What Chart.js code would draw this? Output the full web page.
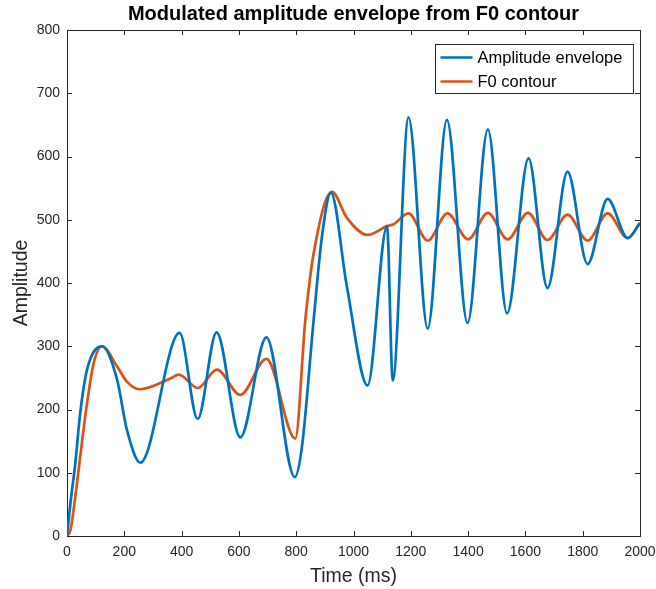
<!DOCTYPE html>
<html>
<head>
<meta charset="utf-8">
<script src="https://cdn.jsdelivr.net/npm/chart.js@4.4.1/dist/chart.umd.min.js"></script>
<style>
  body { margin: 0; background: #fff; }
  #wrap { width: 656px; height: 589px; }
</style>
</head>
<body>
<div id="wrap"><canvas id="plot"></canvas></div>
<script>
// time (ms) / value pairs
const envTime = [0, 12, 29, 46, 70, 122, 175, 209, 256, 393, 456, 522, 605, 696, 795, 820, 861, 890, 921, 977, 1049, 1117, 1137, 1192, 1259, 1326, 1398, 1469, 1536, 1611, 1677, 1747, 1817, 1887, 1957, 2000];
const envValue = [0, 52, 115, 194, 263, 300, 247, 168, 116, 321, 185, 322, 156, 314, 93, 141, 342, 474, 543, 394, 238, 490, 246, 662, 328, 658, 337, 643, 352, 597, 392, 576, 430, 533, 471, 495];

const f0Time = [0, 12, 29, 46, 70, 93, 122, 175, 209, 253, 361, 390, 457, 523, 605, 696, 797, 832, 861, 925, 977, 1049, 1117, 1140, 1192, 1259, 1328, 1400, 1469, 1538, 1609, 1677, 1747, 1817, 1887, 1957, 2000];
const f0Value = [0, 9, 62, 125, 210, 273, 300, 268, 244, 232, 249, 255, 234, 263, 223, 280, 154, 342, 447, 544, 503, 476, 490, 493, 510, 467, 510, 469, 511, 469, 511, 468, 508, 467, 510, 471, 495];

const xTicks = [0, 200, 400, 600, 800, 1000, 1200, 1400, 1600, 1800, 2000];
const yTicks = [0, 100, 200, 300, 400, 500, 600, 700, 800];

const FONT = "'Liberation Sans', Arial, Helvetica, sans-serif";
const INK = '#262626';

function pairs(xs, ys) {
    return xs.map((x, i) => ({ x: x, y: ys[i] }));
}

// matlab style box with inward ticks + legend in the upper right
const boxPlugin = {
    id: 'box',
    beforeDatasetsDraw(chart) {
        const { ctx, chartArea: a, scales } = chart;
        ctx.save();
        ctx.strokeStyle = INK;
        ctx.lineWidth = 1;
        ctx.beginPath();
        xTicks.forEach(v => {
            const px = Math.round(scales.x.getPixelForValue(v)) + 0.5;
            ctx.moveTo(px, a.bottom); ctx.lineTo(px, a.bottom - 5);
            ctx.moveTo(px, a.top); ctx.lineTo(px, a.top + 5);
        });
        yTicks.forEach(v => {
            const py = Math.round(scales.y.getPixelForValue(v)) + 0.5;
            ctx.moveTo(a.left, py); ctx.lineTo(a.left + 5, py);
            ctx.moveTo(a.right, py); ctx.lineTo(a.right - 5, py);
        });
        ctx.stroke();
        ctx.strokeRect(Math.round(a.left) + 0.5, Math.round(a.top) + 0.5,
            Math.round(a.right - a.left), Math.round(a.bottom - a.top));
        ctx.restore();
    },
    afterDatasetsDraw(chart) {
        const { ctx, chartArea: a } = chart;
        const sets = chart.data.datasets;
        ctx.save();
        ctx.font = '16.5px ' + FONT;
        const textW = Math.max(...sets.map(d => ctx.measureText(d.label).width));
        const w = 42 + textW + 11;
        const h = 49;
        const x0 = Math.round(a.right - 7 - w) + 0.5;
        const y0 = Math.round(a.top + 14) + 0.5;
        ctx.fillStyle = '#fff';
        ctx.fillRect(x0, y0, w, h);
        ctx.strokeStyle = INK;
        ctx.lineWidth = 1;
        ctx.strokeRect(x0, y0, w, h);
        sets.forEach((d, i) => {
            const cy = y0 + 13 + i * 24;
            ctx.strokeStyle = d.borderColor;
            ctx.lineWidth = 2.7;
            ctx.beginPath();
            ctx.moveTo(x0 + 5, cy);
            ctx.lineTo(x0 + 37, cy);
            ctx.stroke();
            ctx.fillStyle = '#000';
            ctx.textBaseline = 'middle';
            ctx.fillText(d.label, x0 + 42, cy + 1);
        });
        ctx.restore();
    }
};

new Chart(document.getElementById('plot'), {
    type: 'line',
    data: {
        datasets: [
            {
                label: 'Amplitude envelope',
                data: pairs(envTime, envValue),
                borderColor: '#0072BD',
                borderWidth: 2.7,
                pointRadius: 0,
                cubicInterpolationMode: 'monotone'
            },
            {
                label: 'F0 contour',
                data: pairs(f0Time, f0Value),
                borderColor: '#D95319',
                borderWidth: 2.7,
                pointRadius: 0,
                cubicInterpolationMode: 'monotone'
            }
        ]
    },
    options: {
        responsive: true,
        maintainAspectRatio: false,
        animation: false,
        layout: { padding: 0 },
        plugins: {
            legend: { display: false },
            tooltip: { enabled: false },
            title: {
                display: true,
                fullSize: false,
                text: 'Modulated amplitude envelope from F0 contour',
                color: '#000',
                font: { family: FONT, size: 20, weight: 'bold' },
                padding: { top: 2, bottom: 4 }
            }
        },
        scales: {
            x: {
                type: 'linear',
                min: 0,
                max: 2000,
                afterFit: s => { s.height = 53; s.paddingLeft = 0; s.paddingRight = 16; },
                afterBuildTicks: s => { s.ticks = xTicks.map(v => ({ value: v })); },
                grid: { display: false, drawTicks: false },
                border: { display: false },
                ticks: {
                    color: INK, padding: 8, maxRotation: 0,
                    font: { family: FONT, size: 14 },
                    callback: v => String(v)
                },
                title: {
                    display: true,
                    text: 'Time (ms)',
                    color: INK,
                    font: { family: FONT, size: 19.5 },
                    padding: { top: 0, bottom: 1 }
                }
            },
            y: {
                min: 0,
                max: 800,
                afterFit: s => { s.width = 67; },
                afterBuildTicks: s => { s.ticks = yTicks.map(v => ({ value: v })); },
                grid: { display: false, drawTicks: false },
                border: { display: false },
                ticks: {
                    color: INK, padding: 7,
                    font: { family: FONT, size: 14 },
                    callback: v => String(v)
                },
                title: {
                    display: true,
                    text: 'Amplitude',
                    color: INK,
                    font: { family: FONT, size: 19.5 },
                    padding: { top: 10, bottom: 0 }
                }
            }
        }
    },
    plugins: [boxPlugin]
});
</script>
</body>
</html>
